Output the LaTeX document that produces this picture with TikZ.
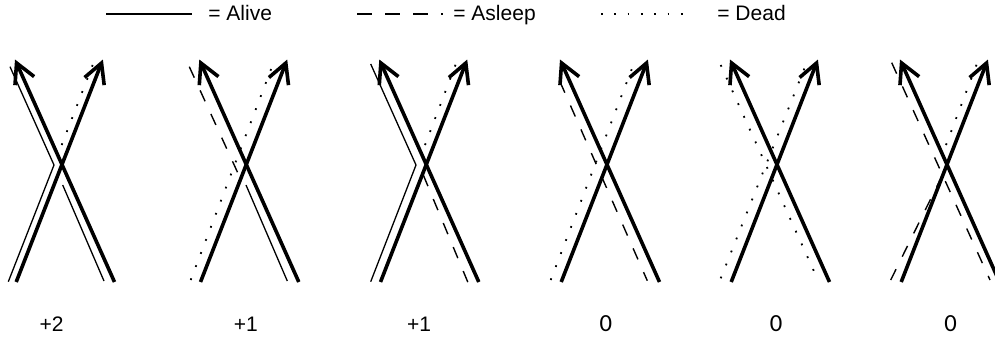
\documentclass[tikz,border=0pt]{standalone}
\usepackage{fontspec}
\setmainfont{Liberation Sans}
\newfontfamily\zerofont{Carlito}
\usetikzlibrary{arrows.meta}
\begin{document}
\begin{tikzpicture}[x=0.5pt,y=-0.5pt,
  heavy/.style={line width=1.8pt,line cap=butt,-{Straight Barb[length=9.8pt,width=10.5pt,line cap=butt]}},
  alive/.style={line width=0.65pt},
  asleep/.style={line width=0.7pt,dash pattern=on 6pt off 7pt},
  dead/.style={line width=0.9pt,dash pattern=on 0.9pt off 6.1pt},
  legtext/.style={anchor=base west,inner sep=0pt,font=\fontsize{10.5pt}{12pt}\selectfont},
  numlab/.style={anchor=base,inner sep=0pt,font=\fontsize{10.5pt}{12pt}\selectfont},
  zerolab/.style={anchor=base,inner sep=0pt,font=\zerofont\fontsize{12.3pt}{14pt}\selectfont}]
\useasboundingbox (0,0) rectangle (995,339);
\clip (0,0) rectangle (995,339);

% legend
\draw[line width=0.9pt] (106,14) -- (192,14);
\node[legtext] (alive) at (208,20) {= Alive};
\draw[line width=0.75pt,dash pattern=on 7.5pt off 6.5pt] (357,14) -- (443,14);
\node[legtext] (asleep) at (453,20) {= Asleep};
\draw[line width=0.85pt,dash pattern=on 0.85pt off 5.8pt] (601,14) -- (694,14);
\node[legtext] (dead) at (717,20) {= Dead};

% thin state lines
% D1
\draw[alive] (8.3,281.7) -- (54,165) -- (10,66.7);
\draw[alive] (62.7,185) -- (104,281);
\draw[dead] (61.7,145) -- (93.3,63.3);
% D2
\draw[asleep] (189.3,66.7) -- (238.3,174);
\draw[alive] (246,185) -- (287.3,281);
\draw[dead] (190.7,280) -- (273.3,63.3);
% D3
\draw[alive] (370.7,281.7) -- (416,165) -- (370.7,64);
\draw[dead] (425,145) -- (456.7,61.7);
\draw[asleep] (423.3,175) -- (468.3,283.3);
% D4
\draw[asleep] (560,81.7) -- (647.3,280.7);
\draw[dead] (550.7,280) -- (634,63.3);
% D5
\draw[dead] (720.7,65) -- (816.7,277.3);
\draw[dead] (720.7,278.3) -- (806.7,62.7);
% D6
\draw[asleep] (891.7,62.7) -- (990,280);
\draw[asleep] (890.7,280) -- (940,180);
\draw[dead] (946,145) -- (977.3,62.7);

% thick crossing arrows
\foreach \cx/\k in {61.7/1,246/2,426/3,606.7/4,776.7/5,946.7/6}{
  \coordinate (a\k s) at (\cx-45.5,282);
  \coordinate (a\k e) at (\cx+41.2,59.5);
  \coordinate (b\k s) at (\cx+52.8,282);
  \coordinate (b\k e) at (\cx-46.7,59.5);
  \draw[heavy] (a\k s) -- (a\k e);
  \draw[heavy] (b\k s) -- (b\k e);
}

% labels
\node[numlab] (l1) at (51.7,331.5) {+2};
\node[numlab] (l2) at (245.8,331.5) {+1};
\node[numlab] (l3) at (419,331.5) {+1};
\node[zerolab] (l4) at (605.8,331.5) {0};
\node[zerolab] (l5) at (776,331.5) {0};
\node[zerolab] (l6) at (950.7,331.5) {0};
\end{tikzpicture}
\end{document}
